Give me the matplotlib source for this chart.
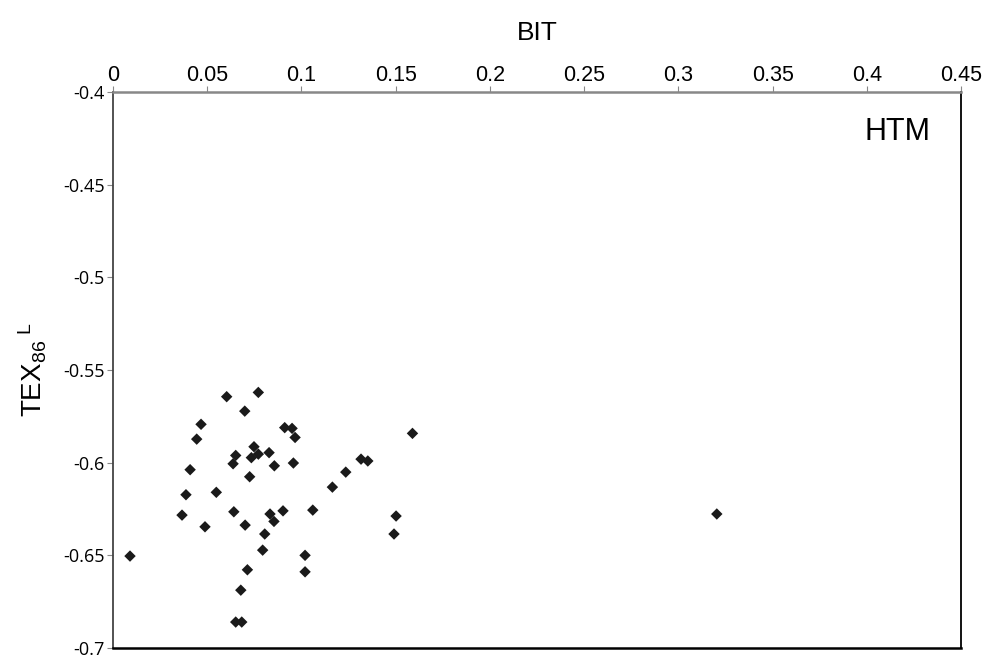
import matplotlib
matplotlib.use("Agg")
import matplotlib.pyplot as plt

plt.rcParams['font.family'] = ['Liberation Sans', 'DejaVu Sans']
plt.rcParams['mathtext.fontset'] = 'custom'
plt.rcParams['mathtext.rm'] = 'Liberation Sans'
plt.rcParams['mathtext.it'] = 'Liberation Sans'

# BIT vs TEX86L, HTM samples
bit = [0.009, 0.0603, 0.0771, 0.0699, 0.0467, 0.0444, 0.0911, 0.0950, 0.0966, 0.1589,
       0.0748, 0.0651, 0.0734, 0.0771, 0.0828, 0.0637, 0.0856, 0.0957, 0.0409, 0.0725,
       0.1316, 0.1352, 0.1235, 0.1164, 0.0387, 0.0548, 0.0366, 0.0488, 0.0641, 0.0701,
       0.0833, 0.0854, 0.0902, 0.1060, 0.0805, 0.0794, 0.1019, 0.1019, 0.0713, 0.0678,
       0.0651, 0.0683, 0.1502, 0.1491, 0.3204]
tex86l = [-0.6504, -0.5644, -0.5621, -0.5722, -0.5793, -0.5873, -0.5811, -0.5815, -0.5864, -0.5842,
          -0.5914, -0.5961, -0.5973, -0.5954, -0.5946, -0.6006, -0.6017, -0.6002, -0.6038, -0.6076,
          -0.5981, -0.5991, -0.6051, -0.6132, -0.6173, -0.6160, -0.6283, -0.6346, -0.6265, -0.6337,
          -0.6277, -0.6317, -0.6260, -0.6256, -0.6385, -0.6472, -0.6500, -0.6589, -0.6578, -0.6688,
          -0.6860, -0.6860, -0.6288, -0.6385, -0.6277]

xticks = [0, 0.05, 0.1, 0.15, 0.2, 0.25, 0.3, 0.35, 0.4, 0.45]
xtick_labels = ['0', '0.05', '0.1', '0.15', '0.2', '0.25', '0.3', '0.35', '0.4', '0.45']
yticks = [-0.4, -0.45, -0.5, -0.55, -0.6, -0.65, -0.7]
ytick_labels = ['-0.4', '-0.45', '-0.5', '-0.55', '-0.6', '-0.65', '-0.7']

fig = plt.figure(figsize=(9.89, 6.58), dpi=100)
ax = fig.add_axes([0.1143, 0.0152, 0.8574, 0.8450])

ax.scatter(bit, tex86l, marker='D', s=34, color='#1a1a1a', edgecolors='none', zorder=3)

ax.set_xlim(0, 0.45)
ax.set_ylim(-0.7, -0.4)
ax.xaxis.tick_top()
ax.xaxis.set_label_position('top')
ax.set_xticks(xticks)
ax.set_xticklabels(xtick_labels, fontsize=15.5)
ax.set_yticks(yticks)
ax.set_yticklabels(ytick_labels, fontsize=13, family=['Open Sans', 'DejaVu Sans'])
ax.tick_params(axis='both', direction='out', length=4, width=0.8, color='#888888', pad=2)
ax.tick_params(axis='x', pad=0.5)

ax.set_xlabel('BIT', fontsize=19, labelpad=18)
ax.set_ylabel(r'TEX$_{86}$$^{\ L}$', fontsize=20, labelpad=10)

ax.spines['top'].set_color('#888888')
ax.spines['top'].set_linewidth(1.8)
ax.spines['left'].set_color('#444444')
ax.spines['left'].set_linewidth(1.3)
ax.spines['right'].set_color('black')
ax.spines['right'].set_linewidth(1.3)
ax.spines['bottom'].set_color('black')
ax.spines['bottom'].set_linewidth(1.8)

ax.text(0.9646, 0.928, 'HTM', transform=ax.transAxes, fontsize=22, ha='right', va='center')

fig.savefig('out.png', dpi=100)
